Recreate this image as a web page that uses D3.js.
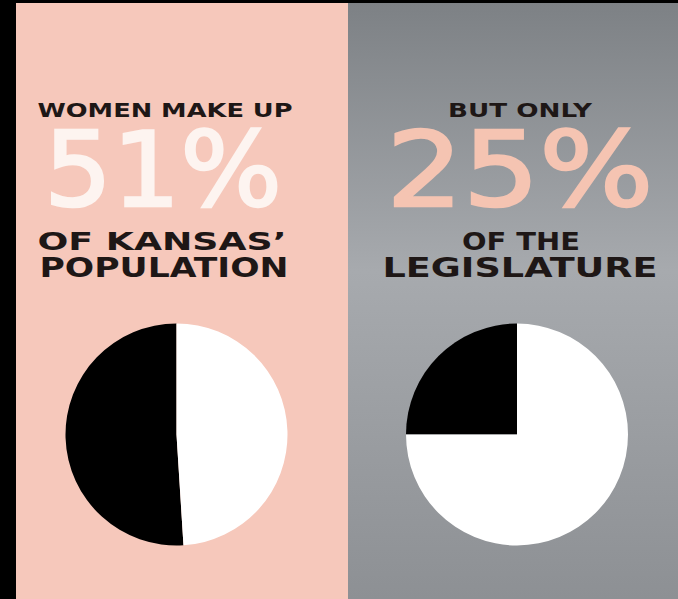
<!DOCTYPE html>
<html>
<head>
<meta charset="utf-8">
<script src="https://cdnjs.cloudflare.com/ajax/libs/d3/7.8.5/d3.min.js"></script>
<style>
  html, body { margin: 0; padding: 0; background: #000; }
  svg { display: block; }
</style>
</head>
<body>
<div id="chart"></div>
<script>
// two pies: share of women vs men
var categories = ['Women', 'Men'];
var populationValues = [51, 49];
var legislatureValues = [25, 75];

var headlines = ['WOMEN MAKE UP', 'BUT ONLY'];
var bigNumbers = ['51%', '25%'];
var subLines1 = ['OF KANSAS\u2019', 'OF THE'];
var subLines2 = ['POPULATION', 'LEGISLATURE'];

var width = 678, height = 599;

var svg = d3.select('#chart')
  .append('svg')
    .attr('width', width)
    .attr('height', height)
    .attr('font-family', '"DejaVu Sans", sans-serif');

svg.append('rect')
  .attr('width', width)
  .attr('height', height)
  .attr('fill', '#000');

var defs = svg.append('defs');
var grad = defs.append('linearGradient')
  .attr('id', 'greyGrad')
  .attr('x1', 0).attr('y1', 0).attr('x2', 0).attr('y2', 1);
grad.append('stop').attr('offset', '0%').attr('stop-color', '#7d8185');
grad.append('stop').attr('offset', '45%').attr('stop-color', '#a7aaae');
grad.append('stop').attr('offset', '100%').attr('stop-color', '#8d9094');

var panels = [
  { x0: 16, x1: 348, fill: '#f6c8bb', numColor: '#fdf4f0', cx: 165, pieCx: 176.5, values: populationValues },
  { x0: 348, x1: 678, fill: 'url(#greyGrad)', numColor: '#f5c4b2', cx: 520, pieCx: 517, values: legislatureValues }
];

var panelTop = 3;

var pie = d3.pie().sort(null).value(function(d) { return d; });
var arc = d3.arc().innerRadius(0).outerRadius(111);
var color = d3.scaleOrdinal().domain(categories).range(['#000000', '#ffffff']);

panels.forEach(function(p, i) {
  svg.append('rect')
    .attr('x', p.x0)
    .attr('y', panelTop)
    .attr('width', p.x1 - p.x0)
    .attr('height', height - panelTop)
    .attr('fill', p.fill);

  var g = svg.append('g');

  g.append('text')
    .attr('x', p.cx).attr('y', 117)
    .attr('text-anchor', 'middle')
    .attr('font-size', 19).attr('font-weight', 'bold')
    .attr('fill', '#1e1716')
    .attr('textLength', i == 0 ? 255 : 144)
    .attr('lengthAdjust', 'spacingAndGlyphs')
    .text(headlines[i]);

  g.append('text')
    .attr('x', p.cx + (i == 0 ? -2 : 0)).attr('y', 206)
    .attr('text-anchor', 'middle')
    .attr('font-size', 104)
    .attr('fill', p.numColor)
    .attr('stroke', p.numColor)
    .attr('stroke-width', 2.5)
    .attr('textLength', i == 0 ? 238 : 267)
    .attr('lengthAdjust', 'spacingAndGlyphs')
    .text(bigNumbers[i]);

  g.append('text')
    .attr('x', p.cx + (i == 0 ? -3 : 1)).attr('y', 250)
    .attr('text-anchor', 'middle')
    .attr('font-size', 25).attr('font-weight', 'bold')
    .attr('fill', '#1e1716')
    .attr('textLength', i == 0 ? 249 : 118)
    .attr('lengthAdjust', 'spacingAndGlyphs')
    .text(subLines1[i]);

  g.append('text')
    .attr('x', p.cx + (i == 0 ? -1 : 0)).attr('y', 277)
    .attr('text-anchor', 'middle')
    .attr('font-size', 27).attr('font-weight', 'bold')
    .attr('fill', '#1e1716')
    .attr('textLength', i == 0 ? 249 : 275)
    .attr('lengthAdjust', 'spacingAndGlyphs')
    .text(subLines2[i]);

  // pie: women slice placed counter-clockwise from 12 o'clock
  var arcs = pie(p.values.slice().reverse()).reverse();
  var pg = svg.append('g')
    .attr('transform', 'translate(' + p.pieCx + ',434.5)');
  pg.selectAll('path')
    .data(arcs)
    .enter().append('path')
      .attr('d', arc)
      .attr('fill', function(d, j) { return color(categories[j]); });
});
</script>
</body>
</html>
